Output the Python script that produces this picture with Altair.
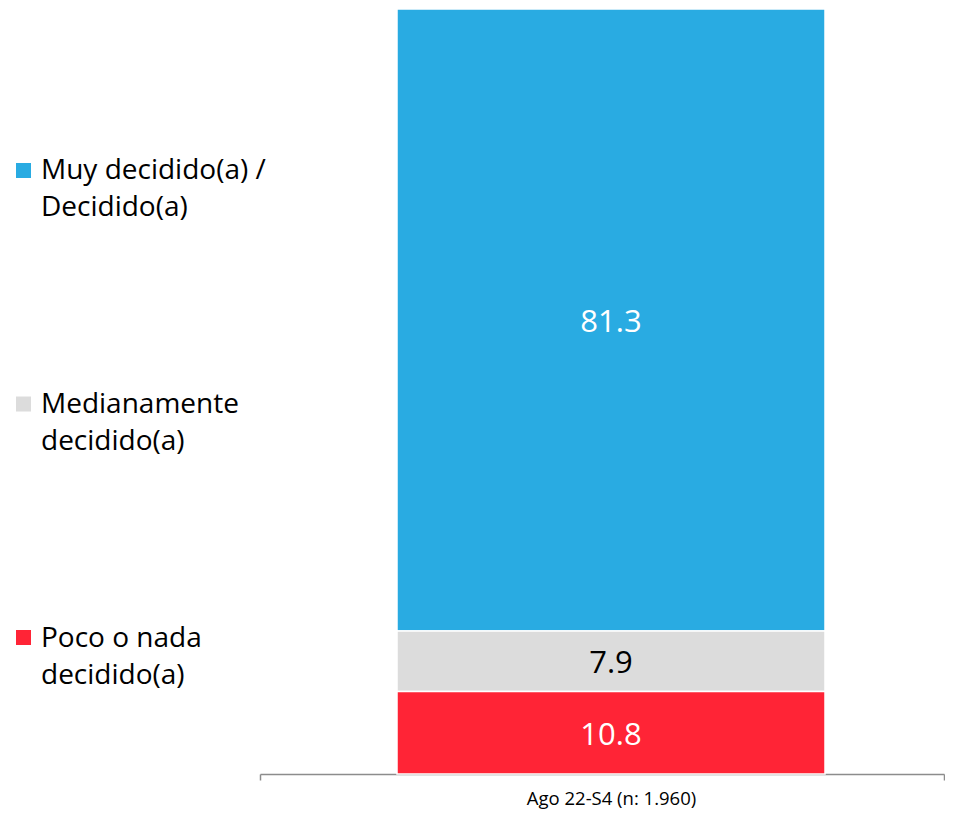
import altair as alt
import pandas as pd

# ---- data ----
period = "Ago 22-S4 (n: 1.960)"
categories = ["Muy decidido(a) / Decidido(a)", "Medianamente decidido(a)", "Poco o nada decidido(a)"]
legend_lines = ["Muy decidido(a) /\nDecidido(a)", "Medianamente\ndecidido(a)", "Poco o nada\ndecidido(a)"]
values = [81.3, 7.9, 10.8]
stack_order = [3, 2, 1]          # 1 = bottom of stack
colors = ["#29ABE2", "#DCDCDC", "#FF2436"]
text_colors = ["#FFFFFF", "#000000", "#FFFFFF"]

FONT = "Open Sans"

bar_df = pd.DataFrame({
    "period": [period] * len(values),
    "cat": categories,
    "value": values,
    "ord": stack_order,
    "fill": colors,
    "tcolor": text_colors,
})

legend_df = pd.DataFrame({
    "cat": categories,
    "lines": legend_lines,
    "fill": colors,
})

# ---- bar panel ----
base = alt.Chart(bar_df).transform_stack(
    stack="value", groupby=["period"], as_=["y0", "y1"],
    sort=[alt.SortField("ord", order="ascending")]
).transform_calculate(mid="(datum.y0 + datum.y1) / 2")

xenc = alt.X(
    "period:N",
    scale=alt.Scale(paddingInner=0, paddingOuter=0),
    axis=alt.Axis(
        title=None, labelAngle=0, labelFont=FONT, labelFontSize=18.5,
        labelColor="#000000", labelPadding=9, labelOffset=9,
        domainColor="#8C8C8C", domainWidth=1.5, tickColor="#8C8C8C",
        tickWidth=1.5, tickSize=6, tickBand="extent",
    ),
)
yscale = alt.Scale(domain=[0, 100], nice=False)

bars = base.mark_bar(size=428, xOffset=9, stroke="#FFFFFF", strokeWidth=1.5).encode(
    x=xenc,
    y=alt.Y("y0:Q", scale=yscale, axis=None),
    y2="y1:Q",
    fill=alt.Fill("fill:N", scale=None),
)

labels = base.mark_text(xOffset=9, dy=3, font=FONT, fontSize=31, baseline="middle").encode(
    x=xenc,
    y=alt.Y("mid:Q", scale=yscale, axis=None),
    text=alt.Text("value:Q", format=".1f"),
    color=alt.Color("tcolor:N", scale=None),
)

bar_panel = alt.layer(bars, labels).properties(width=684, height=765)

# ---- legend panel ----
ly = alt.Y("cat:N", sort=categories,
           scale=alt.Scale(type="point", padding=0.713, align=0.485), axis=None)
squares = alt.Chart(legend_df).mark_square(size=225, opacity=1).encode(
    x=alt.value(15.5),
    y=ly,
    fill=alt.Fill("fill:N", scale=None),
)
ltext = alt.Chart(legend_df).mark_text(
    align="left", baseline="alphabetic", dy=9, lineBreak="\n", lineHeight=37,
    font=FONT, fontSize=28, color="#000000",
).encode(
    x=alt.value(33),
    y=ly,
    text="lines:N",
)
legend_panel = alt.layer(squares, ltext).properties(width=252, height=800)

chart = alt.hconcat(legend_panel, bar_panel, spacing=0, bounds="flush").properties(
    padding=0, background="#FFFFFF"
).configure_view(stroke=None)

chart.save("out.html", embed_options={"renderer": "svg", "actions": False})
